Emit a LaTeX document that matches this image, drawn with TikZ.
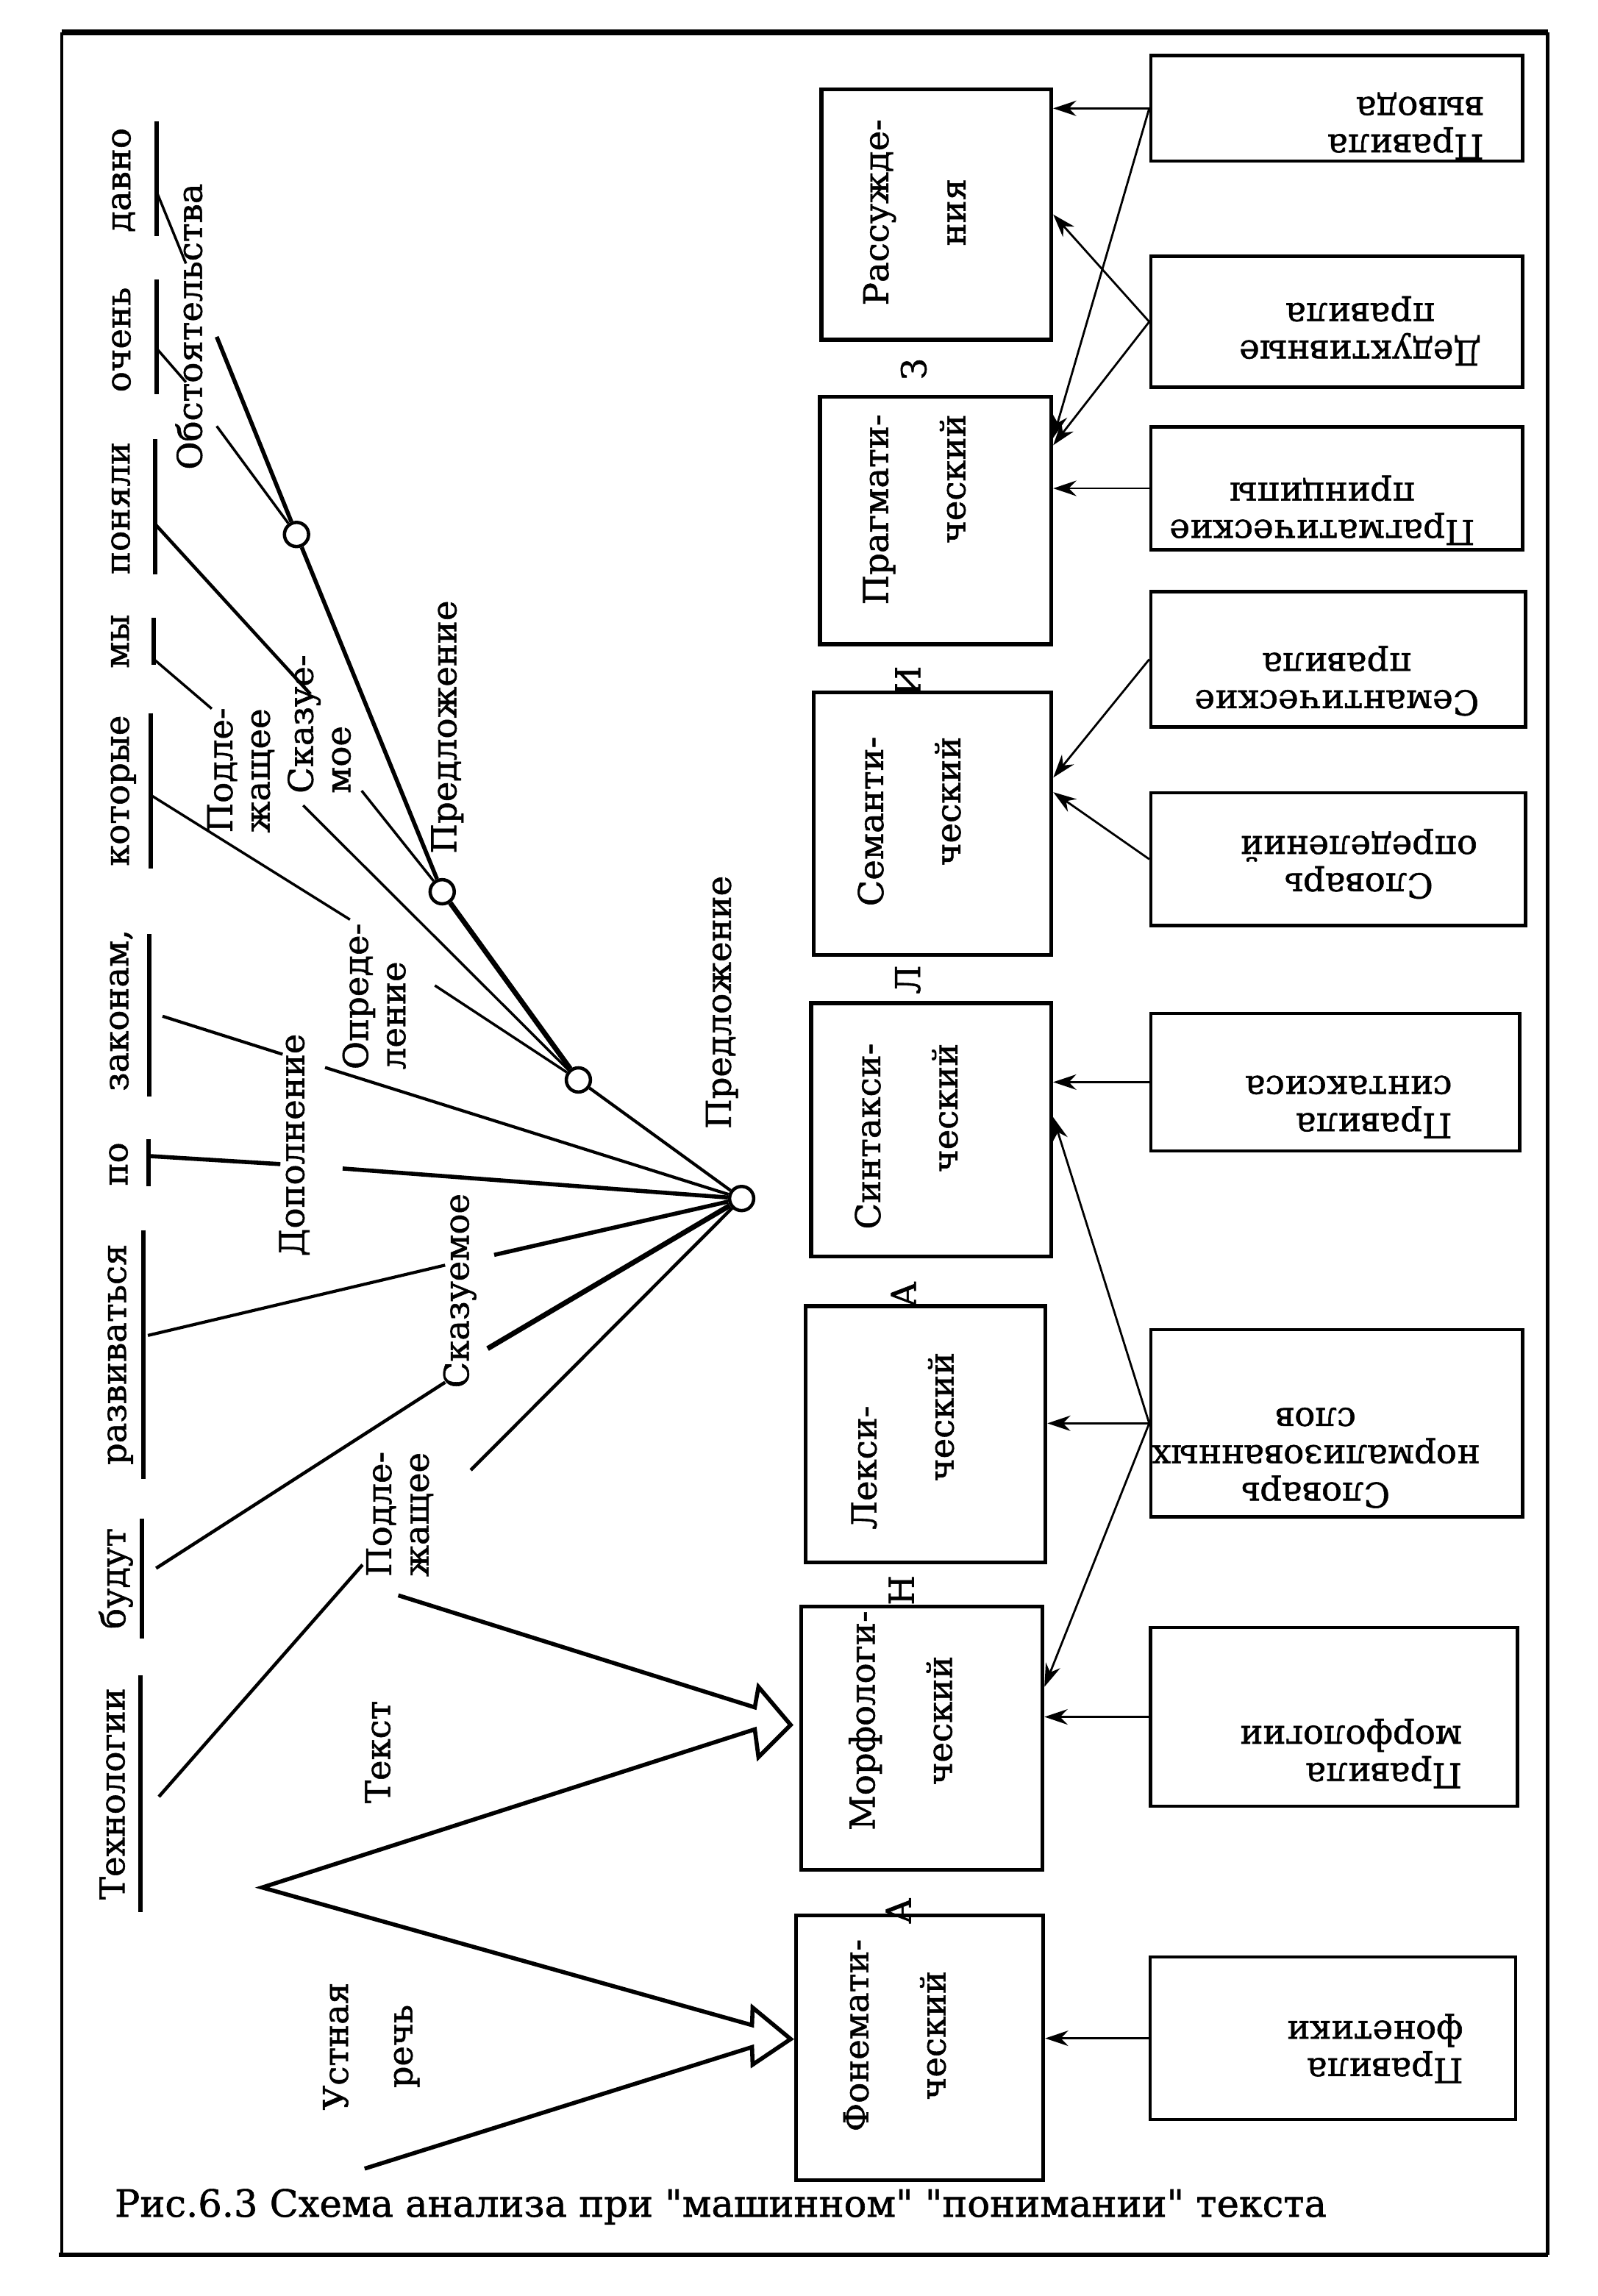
\documentclass[tikz,border=0pt]{standalone}
\usepackage{fontspec}
\usepackage{tikz}
\usetikzlibrary{arrows.meta,calc}
\newfontfamily\tw{DejaVu Serif}[FakeBold=1.2]
\newcommand{\tws}{\tw\fontsize{13.3pt}{14.5pt}\selectfont}
\newcommand{\twd}{\tw\fontsize{13.3pt}{30pt}\selectfont}

\begin{document}
\begin{tikzpicture}[x=0.02cm, y=-0.02cm,
  word/.style={rotate=90, inner sep=0pt, anchor=base, font=\tws},
  tag/.style={rotate=90, inner sep=0pt, font=\tws, align=left},
  knot/.style={circle, draw, line width=1.3pt, fill=white,
    inner sep=0pt, minimum size=0.33cm},
  uline/.style={line width=1.8pt},
  link/.style={line width=1pt},
  boldlink/.style={line width=1.6pt},
  stagebox/.style={draw, line width=1.5pt, inner sep=0pt},
  stagetxt/.style={rotate=90, inner sep=0pt, font=\twd},
  rulebox/.style={draw, line width=1.3pt, inner sep=0pt},
  ruletxt/.style={rotate=180, inner sep=0pt, font=\tws},
  feed/.style={-{Stealth[length=9pt, width=6pt]}, line width=0.8pt},
  tube/.style={line width=1.6pt, line join=miter},
  letter/.style={rotate=90, inner sep=0pt, font=\tws},
]
\useasboundingbox (0,0) rectangle (1091,1568);

% Frame
\draw[line width=2.2pt] (42,22) -- (1057,22);
\draw[line width=1.6pt] (1057,22) -- (1057,1540);
\draw[line width=1.6pt] (40,1540) -- (1057,1540);
\draw[line width=1.2pt] (42,22) -- (42,1540);

% Sentence, read upwards
\node[word] (w1) at (89,123) {давно};
\node[word] (w2) at (89,232) {очень};
\node[word] (w3) at (88.5,347) {поняли};
\node[word] (w4) at (88,438) {мы};
\node[word] (w5) at (88,540) {которые};
\node[word] (w6) at (87.5,690) {законам,};
\node[word] (w7) at (87,795) {по};
\node[word] (w8) at (86,925) {развиваться};
\node[word] (w9) at (85.5,1078) {будут};
\node[word] (w10) at (85,1225) {Технологии};

% Underlines
\draw[uline] (107,83) -- (107,161);
\draw[uline] (107,191) -- (107,269);
\draw[uline] (106,300) -- (106,392);
\draw[uline] (105,422) -- (105,454);
\draw[uline] (103,487) -- (103,593);
\draw[uline] (102,638) -- (102,749);
\draw[uline] (101.5,778) -- (101.5,810);
\draw[uline] (98,840) -- (98,1010);
\draw[uline] (97,1037) -- (97,1119);
\draw[uline] (96,1144) -- (96,1306);

% Parts of the sentence
\node[tag] (obst) at (129,223) {Обстоятельства};
\node[tag] (podl1) at (164.5,526) {Подле-\\жащее};
\node[tag] (skaz1) at (218,494.5) {Сказуе-\\мое};
\node[tag] (pred1) at (305.5,496.5) {Предложение};
\node[tag] (opr) at (255.5,680.5) {Опреде-\\ление};
\node[tag] (dop) at (201,782) {Дополнение};
\node[tag] (pred) at (493,684.5) {Предложение};
\node[tag] (skaz) at (314,881.5) {Сказуемое};
\node[tag] (podl) at (273,1034) {Подле-\\жащее};
\node[tag] (txt) at (258,1196.5) {Текст};
\node[tag, align=center] (oral) at (253.5,1397.5) {Устная\\[10.5pt]речь};

% Knots
\node[knot] (c1) at (202.5,365) {};
\node[knot] (c2) at (302,609) {};
\node[knot] (c3) at (395,737.5) {};
\node[knot] (c4) at (506.5,818.5) {};

% Obstoyatelstva
\coordinate (davno-b) at (107,131);
\coordinate (obst-in1) at (127,180);
\coordinate (ochen-b) at (107,238);
\coordinate (obst-in2) at (127,261);
\coordinate (obst-out1) at (148,230);
\coordinate (obst-out2) at (148,291);
\draw[link] (davno-b) -- (obst-in1);
\draw[link] (ochen-b) -- (obst-in2);
\draw[boldlink] (obst-out1) -- (c1);
\draw[link] (obst-out2) -- (c1);

% Subordinate clause
\coordinate (my-b) at (106,451);
\coordinate (podl1-in) at (144.6,484);
\coordinate (ponyali-b) at (106,358);
\coordinate (skaz1-in) at (212,474);
\coordinate (skaz1-out1) at (207,550);
\coordinate (skaz1-out2) at (247,540);
\coordinate (kotorye-b) at (103,543);
\coordinate (opr-in) at (239,628);
\coordinate (opr-out) at (297,673);
\draw[link] (my-b) -- (podl1-in);
\draw[line width=1.3pt] (ponyali-b) -- (skaz1-in);
\draw[link] (skaz1-out1) -- (c3);
\draw[link] (skaz1-out2) -- (c2);
\draw[boldlink] (c1) -- (c2);
\draw[line width=2pt] (c2) -- (c3);
\draw[link] (kotorye-b) -- (opr-in);
\draw[link] (opr-out) -- (c3);
\draw[line width=1.2pt] (c3) -- (c4);

% Main clause
\coordinate (zakonam-b) at (111,694);
\coordinate (dop-in1) at (193,720);
\coordinate (po-b) at (102,789.5);
\coordinate (dop-in2) at (191.5,795);
\coordinate (dop-out1) at (222,729);
\coordinate (dop-out2) at (234,798);
\coordinate (razv-b) at (101,912);
\coordinate (skaz-in1) at (304,864);
\coordinate (skaz-out1) at (337.5,857);
\coordinate (budut-b) at (106.6,1071);
\coordinate (skaz-in2) at (304,944);
\coordinate (skaz-out2) at (333,921);
\coordinate (tech-b) at (108.5,1227);
\coordinate (podl-in) at (247.6,1068.6);
\coordinate (podl-out) at (321.5,1004);
\draw[line width=1.2pt] (zakonam-b) -- (dop-in1);
\draw[boldlink] (po-b) -- (dop-in2);
\draw[line width=1.2pt] (dop-out1) -- (c4);
\draw[boldlink] (dop-out2) -- (c4);
\draw[line width=1.2pt] (razv-b) -- (skaz-in1);
\draw[boldlink] (skaz-out1) -- (c4);
\draw[line width=1.3pt] (budut-b) -- (skaz-in2);
\draw[line width=2pt] (skaz-out2) -- (c4);
\draw[line width=1.3pt] (tech-b) -- (podl-in);
\draw[line width=1.3pt] (podl-out) -- (c4);

% Stages of analysis
\node[stagebox, minimum width=3.14cm, minimum height=3.42cm] (bRas) at (639.5,146.5) {};
\node[stagebox, minimum width=3.16cm, minimum height=3.38cm] (bPrag) at (639,355.5) {};
\node[stagebox, minimum width=3.25cm, minimum height=3.58cm] (bSem) at (636.8,562.5) {};
\node[stagebox, minimum width=3.28cm, minimum height=3.46cm] (bSin) at (636,771.5) {};
\node[stagebox, minimum width=3.28cm, minimum height=3.5cm] (bLex) at (632,979.5) {};
\node[stagebox, minimum width=3.3cm, minimum height=3.6cm] (bMorf) at (629.5,1187) {};
\node[stagebox, minimum width=3.38cm, minimum height=3.62cm] (bFon) at (628,1398.5) {};

\node[stagetxt, align=center] (tRas) at (624.5,145) {Рассужде-\\ния};
\node[stagetxt, align=right] (tPrag) at (624.5,348) {Прагмати-\\ческий};
\node[stagetxt, align=right] (tSem) at (621,561) {Семанти-\\ческий};
\node[stagetxt, align=right] (tSin) at (619,776) {Синтакси-\\ческий};
\node[stagetxt, align=left] (tLex) at (616.5,984) {Лекси-\\\hspace*{0.66cm}ческий};
\node[stagetxt, align=center] (tMorf) at (615,1175) {Морфологи-\\ческий};
\node[stagetxt, align=center] (tFon) at (611,1390) {Фонемати-\\ческий};

% Letters between the stages
\node[letter] (l1) at (624,252) {З};
\node[letter] (l2) at (620,465) {И};
\node[letter] (l3) at (620,669) {Л};
\node[letter] (l4) at (617,884) {А};
\node[letter] (l5) at (615.5,1086) {Н};
\node[letter] (l6) at (613.5,1305) {А};

% Knowledge boxes
\node[rulebox, minimum width=5.08cm, minimum height=1.44cm] (rVyv) at (913,74) {};
\node[rulebox, minimum width=5.08cm, minimum height=1.79cm] (rDed) at (913,219.75) {};
\node[rulebox, minimum width=5.08cm, minimum height=1.68cm] (rPrin) at (913,333.5) {};
\node[rulebox, minimum width=5.12cm, minimum height=1.85cm] (rSemR) at (914,450.3) {};
\node[rulebox, minimum width=5.12cm, minimum height=1.81cm] (rSlov) at (914,586.75) {};
\node[rulebox, minimum width=5.04cm, minimum height=1.88cm] (rSint) at (912,739) {};
\node[rulebox, minimum width=5.08cm, minimum height=2.56cm] (rNorm) at (913,972) {};
\node[rulebox, minimum width=5.01cm, minimum height=2.44cm] (rMorf) at (911,1172.5) {};
\node[rulebox, minimum width=4.99cm, minimum height=2.22cm] (rFon) at (910.3,1392) {};

\node[ruletxt, align=left] (tVyv) at (960,86) {Правила\\вывода};
\node[ruletxt, align=center] (tDed) at (929,226) {Дедуктивные\\правила};
\node[ruletxt, align=center] (tPrin) at (903,348.5) {Прагматические\\принципы};
\node[ruletxt, align=center] (tSemR) at (913,465) {Семантические\\правила};
\node[ruletxt, align=center] (tSlov) at (928,590) {Словарь\\определений};
\node[ruletxt, align=left] (tSint) at (921,756) {Правила\\синтаксиса};
\node[ruletxt, align=center] (tNorm) at (898.5,995.6) {Словарь\\нормализованных\\слов};
\node[ruletxt, align=left] (tMorfR) at (922.5,1197.5) {Правила\\морфологии};
\node[ruletxt, align=left] (tFonR) at (939,1399) {Правила\\фонетики};

% Feeds into the stages
\draw[feed] (rVyv.west) -- (rVyv.west -| bRas.east);
\draw[feed] (rVyv.west) -- ($(bPrag.east)+(0,-56.5)$);
\draw[feed] (rDed.west) -- (bRas.east);
\draw[feed] (rDed.west) -- ($(bPrag.east)+(0,-51.5)$);
\draw[feed] (rPrin.west) -- (rPrin.west -| bPrag.east);
\draw[feed] (rSemR.west) -- ($(bSem.east)+(0,-31.5)$);
\draw[feed] (rSlov.west) -- ($(bSem.east)+(0,-21.5)$);
\draw[feed] (rSint.west) -- (rSint.west -| bSin.east);
\draw[feed] (rNorm.west) -- ($(bSin.east)+(0,-8.5)$);
\draw[feed] (rNorm.west) -- (rNorm.west -| bLex.east);
\draw[feed] (rNorm.west) -- ($(bMorf.east)+(0,-35)$);
\draw[feed] (rMorf.west) -- (rMorf.west -| bMorf.east);
\draw[feed] (rFon.west) -- (rFon.west -| bFon.east);

% Text and speech inputs
\coordinate (apex) at (179,1289);
\coordinate (oral-in) at (249,1481);
\coordinate (text-in) at (272,1089.5);
\draw[tube] (text-in) -- (515.5,1166) -- (518,1152) -- (540,1178)
  -- (518,1200) -- (515.5,1181) -- (apex) -- (513.6,1383)
  -- (514,1371) -- (540,1392.5) -- (514,1410) -- (513.6,1398) -- (oral-in);

% Caption
\node[font=\tw\fontsize{14.6pt}{16pt}\selectfont, anchor=west, inner sep=0pt] (cap) at (78,1507)
  {Рис.6.3 Схема анализа при "машинном" "понимании" текста};

\end{tikzpicture}
\end{document}
